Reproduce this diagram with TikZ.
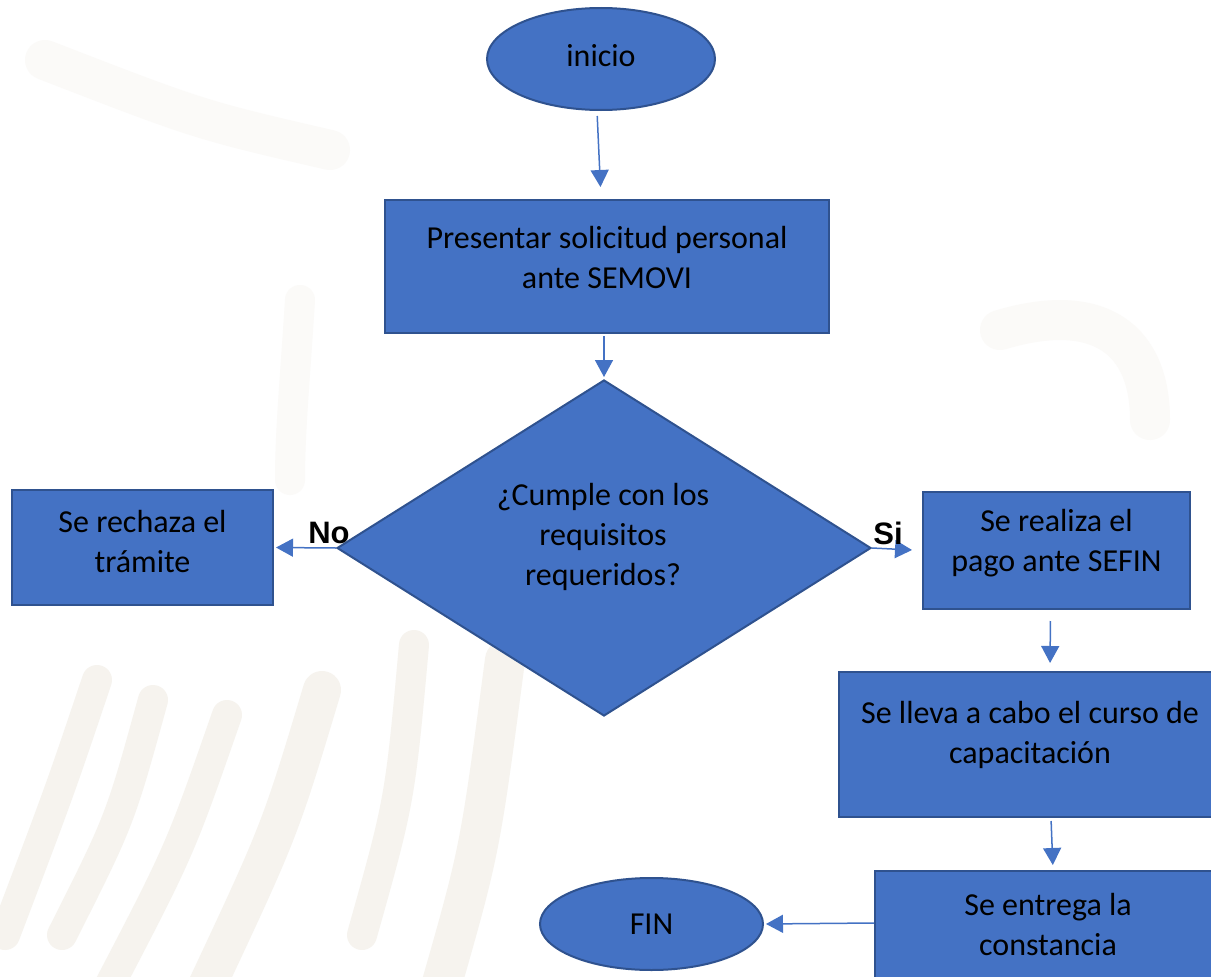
\documentclass[tikz,border=0pt]{standalone}
\usepackage{fontspec}
\setmainfont{Carlito}
\newfontfamily\arialfont{Liberation Sans}
\usetikzlibrary{shapes.geometric,arrows.meta}
\definecolor{boxfill}{HTML}{4472C4}
\definecolor{boxline}{HTML}{2F528F}
\definecolor{arrowc}{HTML}{4472C4}
\definecolor{wmA}{HTML}{F6F3EE}
\definecolor{wmB}{HTML}{FBFAF8}
\begin{document}
\begin{tikzpicture}[x=1pt,y=-1pt,
  every node/.style={font=\fontsize{32}{40}\selectfont, text=black, inner sep=0pt},
  blk/.style={draw=boxline, fill=boxfill, line width=2pt, rectangle},
  oval/.style={draw=boxline, fill=boxfill, line width=2pt, ellipse},
  conn/.style={draw=arrowc, line width=1.5pt, -{Triangle[width=18pt,length=17pt]}},
  lbl/.style={font=\arialfont\bfseries\fontsize{31}{36}\selectfont},
  wm/.style={line width=30pt, line cap=round}]
\useasboundingbox (0,0) rectangle (1211,977);
\clip (0,0) rectangle (1211,977);
\fill[white] (0,0) rectangle (1211,977);

% faint watermark
\draw[wm, draw=wmA] (97,680) .. controls (60,790) .. (5,935);
\draw[wm, draw=wmA] (153,700) .. controls (120,820) .. (62,935);
\draw[wm, draw=wmA] (227,715) .. controls (180,850) .. (107,990);
\draw[wm, draw=wmA, line width=38pt] (322,690) .. controls (280,830) .. (205,990);
\draw[wm, draw=wmA] (414,645) .. controls (400,800) .. (362,935);
\draw[wm, draw=wmA, line width=40pt] (505,660) .. controls (480,850) .. (440,990);
\draw[wm, draw=wmB, line width=40pt] (45,60) .. controls (200,120) .. (330,150);
\draw[wm, draw=wmB, line width=30pt] (300,300) .. controls (295,380) and (290,430) .. (290,480);
\draw[wm, draw=wmB, line width=40pt] (1000,330) .. controls (1100,300) and (1150,340) .. (1150,420);

% nodes
\node[oval, minimum width=228pt, minimum height=102pt] (inicio) at (601,59) {};
\node at (601,56) {inicio};

\node[blk, minimum width=444pt, minimum height=133pt] (box1) at (607,266.5) {};
\node[align=center] at (607,258) {Presentar solicitud personal\\ante SEMOVI};

\node[diamond, draw=boxline, fill=boxfill, line width=2pt, minimum width=534pt, minimum height=336pt] (dec) at (604,548) {};
\node[align=center] at (603,537) {¿Cumple con los\\requisitos\\requeridos?};

\node[blk, minimum width=261pt, minimum height=115pt] (rech) at (142.5,547.5) {};
\node[align=center] at (142.5,542) {Se rechaza el\\trámite};

\node[blk, minimum width=267pt, minimum height=117pt] (pago) at (1056.5,550.5) {};
\node[align=center] at (1056.5,543) {Se realiza el\\pago ante SEFIN};

\node[blk, minimum width=382pt, minimum height=145pt] (curso) at (1030,744.5) {};
\node[align=center] at (1030,735) {Se lleva a cabo el curso de\\capacitación};

\node[blk, minimum width=346pt, minimum height=114pt] (const) at (1048,928) {};
\node[align=center] at (1048,924) {Se entrega la\\constancia};

\node[oval, minimum width=223pt, minimum height=92pt] (fin) at (651.5,924) {};
\node at (651.5,924) {FIN};

% connectors
\draw[conn, shorten <=5pt, shorten >=12pt] ([xshift=-4pt]inicio.south) -- ([xshift=-6pt]box1.north);
\draw[conn, shorten <=2pt, shorten >=2pt] ([xshift=-3pt]box1.south) -- (dec.north);
\draw[conn, shorten >=2pt] (dec.west) -- (rech.east);
\draw[conn, shorten >=10pt] (dec.east) -- (pago.west);
\draw[conn, shorten <=11pt, shorten >=8pt] ([xshift=-6pt]pago.south) -- ([xshift=20pt]curso.north);
\draw[conn, shorten <=3pt, shorten >=5pt] ([xshift=21pt]curso.south) -- ([xshift=5pt]const.north);
\draw[conn, shorten >=2pt] ([yshift=5pt]const.west) -- (fin.east);

% labels
\node[lbl] (no) at (329,533) {No};
\node[lbl] (si) at (888,533) {Si};
\end{tikzpicture}
\end{document}
